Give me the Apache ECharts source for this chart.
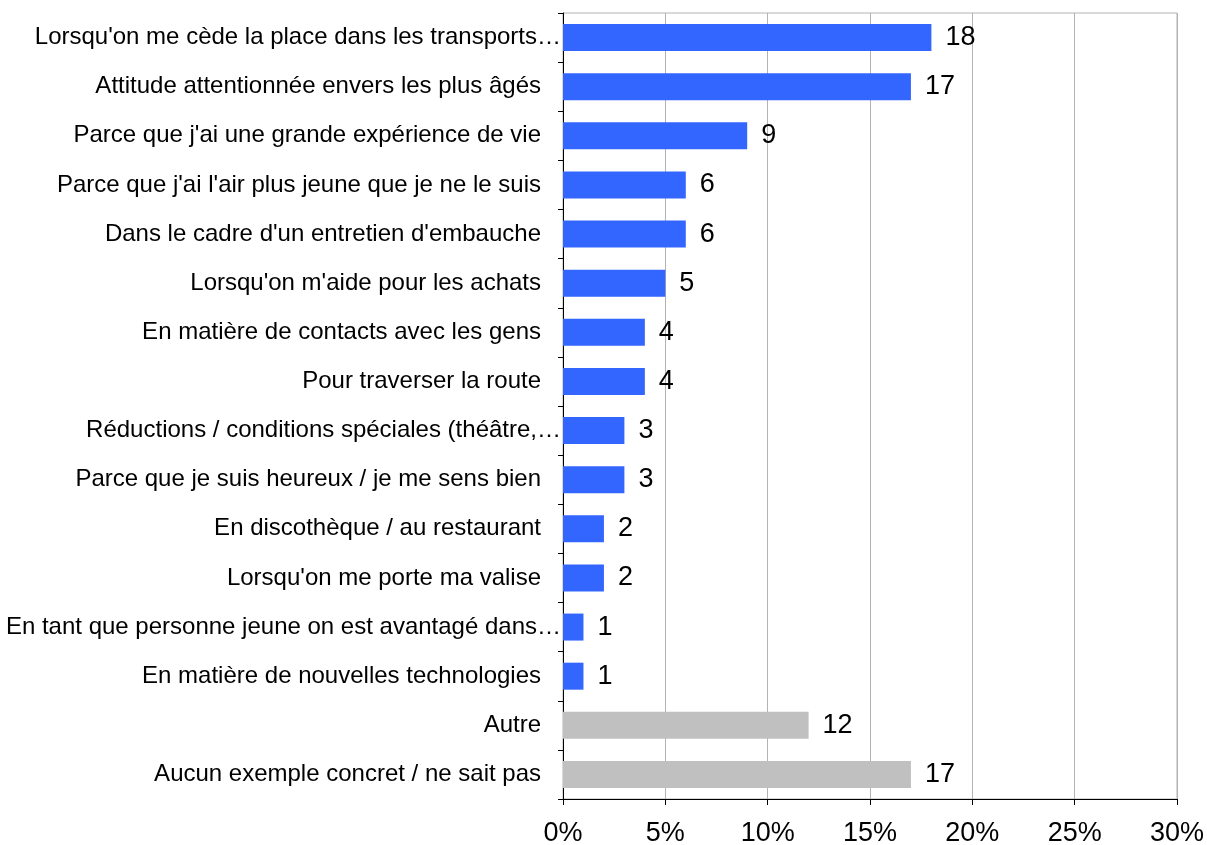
<!DOCTYPE html>
<html>
<head>
<meta charset="utf-8">
<script src="https://cdn.jsdelivr.net/npm/echarts@6/dist/echarts.min.js"></script>
<style>html,body{margin:0;padding:0;background:#fff}#c{width:1207px;height:845px}</style>
</head>
<body>
<div id="c"></div>
<script>
const categories = [
  "Lorsqu'on me cède la place dans les transports…",
  "Attitude attentionnée envers les plus âgés",
  "Parce que j'ai une grande expérience de vie",
  "Parce que j'ai l'air plus jeune que je ne le suis",
  "Dans le cadre d'un entretien d'embauche",
  "Lorsqu'on m'aide pour les achats",
  "En matière de contacts avec les gens",
  "Pour traverser la route",
  "Réductions / conditions spéciales (théâtre,…",
  "Parce que je suis heureux / je me sens bien",
  "En discothèque / au restaurant",
  "Lorsqu'on me porte ma valise",
  "En tant que personne jeune on est avantagé dans…",
  "En matière de nouvelles technologies",
  "Autre",
  "Aucun exemple concret / ne sait pas"
];
const values = [18, 17, 9, 6, 6, 5, 4, 4, 3, 3, 2, 2, 1, 1, 12, 17];
const otherCategories = ["Autre", "Aucun exemple concret / ne sait pas"];
const xTicks = [0, 5, 10, 15, 20, 25, 30];

const FONT = "'Liberation Sans', Arial, sans-serif";
const chart = echarts.init(document.getElementById('c'), null, {renderer: 'canvas'});
chart.setOption({
  animation: false,
  backgroundColor: '#ffffff',
  grid: {
    left: 563, right: 30, top: 13, bottom: 46,
    outerBoundsMode: 'none', containLabel: false,
    show: true, borderColor: '#b3b3b3', borderWidth: 1
  },
  xAxis: {
    type: 'value',
    min: xTicks[0], max: xTicks[xTicks.length - 1], interval: 5,
    axisLine: {show: true, lineStyle: {color: '#000', width: 1}},
    axisTick: {show: true, length: 6, lineStyle: {color: '#000'}},
    splitLine: {show: true, lineStyle: {color: '#b3b3b3', width: 1}},
    axisLabel: {formatter: '{value}%', fontSize: 27, color: '#000', fontFamily: FONT, margin: 21}
  },
  yAxis: {
    type: 'category',
    data: categories,
    inverse: true,
    axisLine: {show: true, lineStyle: {color: '#000', width: 1}},
    axisTick: {show: true, length: 5, lineStyle: {color: '#000'}},
    axisLabel: {
      margin: 2,
      color: '#000',
      fontSize: 24,
      fontFamily: FONT,
      formatter: function (v) {
        return v.endsWith('…') ? '{t|' + v + '}' : '{n|' + v + '}';
      },
      rich: {
        t: {fontSize: 24, fontFamily: FONT, color: '#000'},
        n: {fontSize: 24, fontFamily: FONT, color: '#000', padding: [0, 20, 0, 0]}
      }
    }
  },
  series: [{
    type: 'bar',
    data: values,
    barWidth: 27,
    itemStyle: {
      color: function (p) {
        return otherCategories.indexOf(p.name) >= 0 ? '#c0c0c0' : '#3366ff';
      }
    },
    label: {
      show: true,
      position: 'right',
      distance: 14,
      fontSize: 27,
      color: '#000',
      fontFamily: FONT
    }
  }]
});
</script>
</body>
</html>
